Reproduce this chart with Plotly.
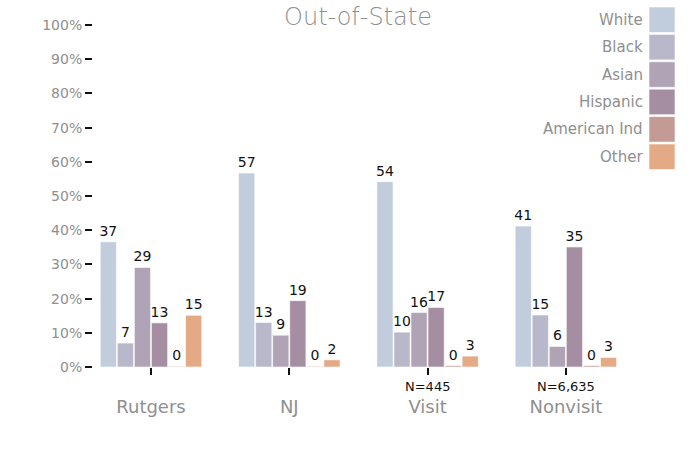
import plotly.graph_objects as go

categories = ["Rutgers", "NJ", "Visit", "Nonvisit"]
series_names = ["White", "Black", "Asian", "Hispanic", "American Ind", "Other"]
white = [36.6, 56.7, 54.2, 41.2]
black = [7.0, 13.0, 10.2, 15.2]
asian = [29.1, 9.3, 15.9, 6.0]
hispanic = [12.9, 19.4, 17.4, 35.1]
american_ind = [0.2, 0.2, 0.4, 0.4]
other = [15.1, 2.1, 3.2, 2.8]
series_values = [white, black, asian, hispanic, american_ind, other]
colors = ["#c1cddd", "#b8b8ca", "#b0a3b5", "#a58ea2", "#c49b94", "#e4aa86"]
n_labels = ["", "", "N=445", "N=6,635"]
title_text = "Out-of-State"
ytick_vals = [0, 10, 20, 30, 40, 50, 60, 70, 80, 90, 100]
ytick_text = [f"{v}%" for v in ytick_vals]

FONT = "DejaVu Sans"
GRAY = "#8f8f8f"

L, R, T, B = 93, 636, 25, 367
PW, PH = R - L, B - T

fig = go.Figure()
for name, vals, col in zip(series_names, series_values, colors):
    fig.add_trace(go.Bar(
        x=categories, y=vals, name=name,
        marker=dict(color=col, line=dict(color="rgba(255,255,255,0.6)", width=1)),
        text=[f"{round(v)}" for v in vals], textposition="outside",
        constraintext="none",
        textfont=dict(family=FONT, size=14, color="#111"),
        cliponaxis=False, showlegend=False,
    ))

# N annotations
for cat, lab in zip(categories, n_labels):
    if lab:
        fig.add_annotation(x=cat, y=0, xref="x", yref="y", text=lab, showarrow=False,
                           yshift=-19, font=dict(family=FONT, size=13, color="#111"))

# custom legend (text left of swatch)
for i, (name, col) in enumerate(zip(series_names, colors)):
    top = 7 + i * 27.4
    fig.add_shape(type="rect", xref="paper", yref="paper",
                  x0=(649 - L) / PW, x1=(675 - L) / PW,
                  y0=(B - (top + 25.5)) / PH, y1=(B - top) / PH,
                  fillcolor=col, line=dict(color="rgba(255,255,255,0.6)", width=1))
    fig.add_annotation(xref="paper", yref="paper", x=(645 - L) / PW,
                       y=(B - (top + 12.7)) / PH, text=name, showarrow=False,
                       xanchor="right", yanchor="middle",
                       font=dict(family=FONT, size=15, color=GRAY))

fig.update_layout(
    width=700, height=450,
    margin=dict(l=L, r=700 - R, t=T, b=450 - B),
    paper_bgcolor="white", plot_bgcolor="white",
    barmode="group", bargap=0.26, bargroupgap=0.05,
    title=dict(text=title_text, x=358 / 700, xanchor="center", y=1 - 17 / 450, yanchor="middle",
               font=dict(family=FONT, size=24, color=GRAY, weight=300)),
    font=dict(family=FONT),
    xaxis=dict(range=[-(151 - L) / 138.3, -(151 - L) / 138.3 + PW / 138.3],
               showgrid=False, zeroline=False, showline=False, automargin=False,
               ticks="outside", ticklen=7, tickcolor="#111", tickwidth=1.5,
               ticklabelstandoff=16,
               tickfont=dict(family=FONT, size=18, color=GRAY)),
    yaxis=dict(range=[0, 100], tickvals=ytick_vals, ticktext=ytick_text, showgrid=False,
               automargin=False,
               zeroline=False, showline=False, ticks="outside", ticklen=7, tickcolor="#111",
               tickwidth=2, tickfont=dict(family=FONT, size=14, color=GRAY)),
)

fig.write_html("out.html", config={"displayModeBar": False},
               post_script="document.body.style.margin='0';")
